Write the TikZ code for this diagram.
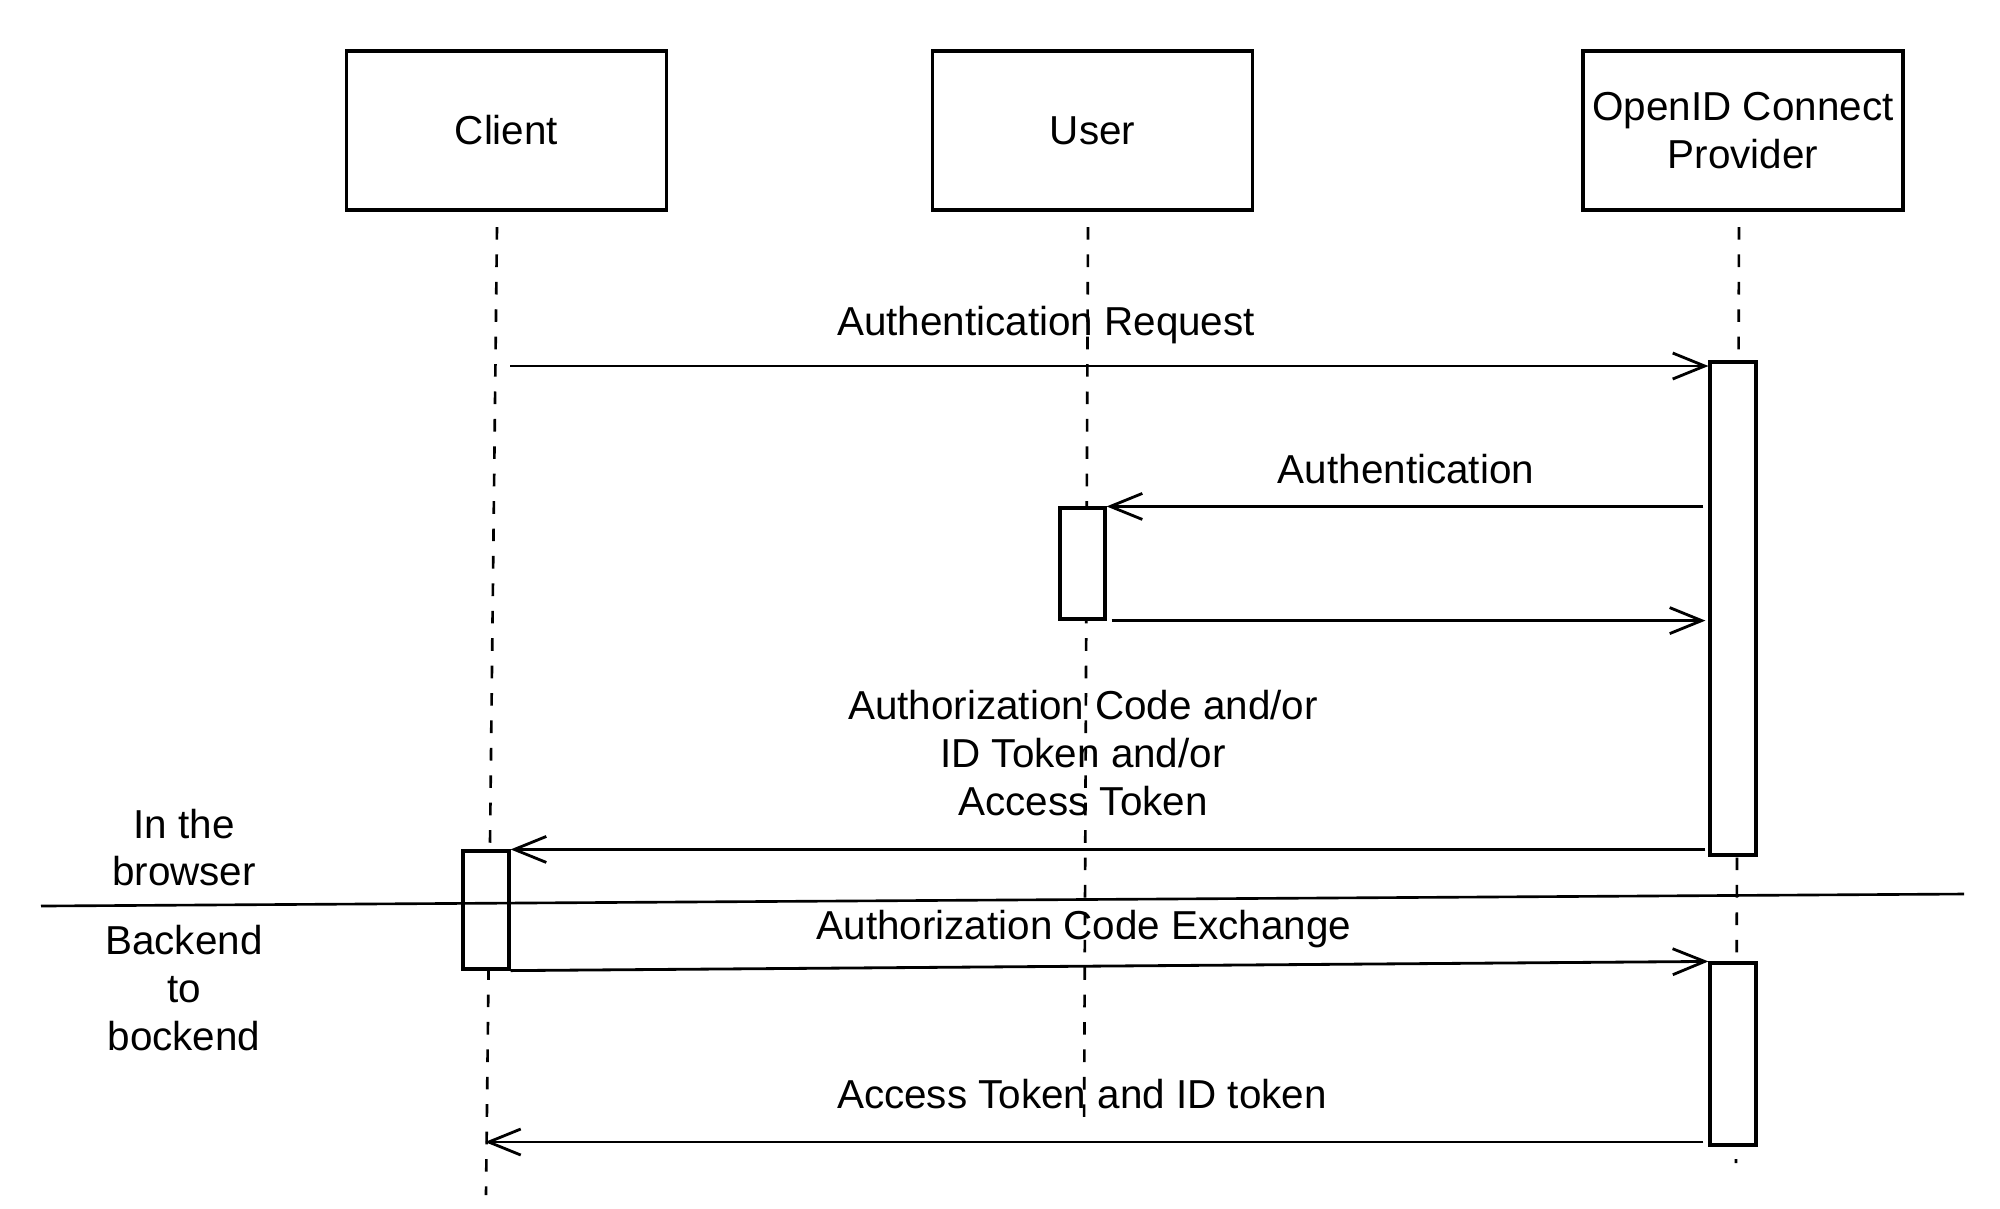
\documentclass[tikz,border=0pt]{standalone}
\usepackage{fontspec}
\setmainfont{Liberation Sans}
\usetikzlibrary{arrows.meta, positioning, calc}
\newcommand{\seqfont}{\fontsize{11.5}{13.6}\selectfont}

\begin{document}
\begin{tikzpicture}[
    >={Straight Barb[length=3.2mm, width=2.6mm]},
    actor/.style={draw, rectangle, line width=0.9pt, minimum width=3.2cm, minimum height=1.59cm, inner xsep=1pt, font=\seqfont, align=center},
    actbox/.style={draw, rectangle, fill=white, line width=0.9pt, minimum width=0.46cm, inner sep=0pt},
    lifeline/.style={line width=0.75pt, dash pattern=on 3.6pt off 4.2pt},
    msg/.style={->, line width=0.8pt},
    msglabel/.style={font=\seqfont, align=center, inner sep=1pt},
    sidelabel/.style={font=\seqfont, align=center, inner sep=1pt},
    divider/.style={line width=0.75pt}
]
    \useasboundingbox (0,0) rectangle (20,-12.08);

    \node[actor] (client) at (5.065,-1.305) {Client};
    \node[actor] (user) at (10.925,-1.305) {User};
    \node[actor] (oidc) at (17.43,-1.305) {OpenID Connect\\Provider};

    \coordinate (clientTop) at (4.97,-2.27);
    \coordinate (clientEnd) at (4.86,-11.95);
    \coordinate (userTop) at (10.88,-2.27);
    \coordinate (userEnd) at (10.84,-11.31);
    \coordinate (oidcTop) at (17.39,-2.27);
    \coordinate (oidcEnd) at (17.36,-11.63);
    \draw[lifeline] (clientTop) -- (clientEnd);
    \draw[lifeline] (userTop) -- (userEnd);
    \draw[lifeline] (oidcTop) -- (oidcEnd);

    \node[actbox, minimum height=4.93cm] (oidcAct1) at (17.33,-6.085) {};
    \node[actbox, minimum height=1.82cm] (oidcAct2) at (17.33,-10.54) {};
    \node[actbox, minimum width=0.45cm, minimum height=1.11cm] (userAct) at (10.825,-5.635) {};
    \node[actbox, minimum height=1.18cm] (clientAct) at (4.86,-9.10) {};

    \coordinate (reqStart) at (5.10,-3.66);
    \draw[msg] (reqStart) -- (reqStart -| oidcAct1.west);
    \node[msglabel] (reqLabel) at (10.46,-3.25) {Authentication Request};

    \draw[msg] ($(oidcAct1.west |- userAct.north)+(-0.05,0)$) -- (userAct.north east);
    \node[msglabel] (authLabel) at (14.06,-4.69) {Authentication};

    \draw[msg] ($(userAct.south east)+(0.05,0)$) -- ($(oidcAct1.west |- userAct.south)+(-0.03,0)$);

    \draw[msg] ($(oidcAct1.west |- clientAct.north)+(-0.03,0)$) -- (clientAct.north east);
    \node[msglabel] (codeLabel) at (10.83,-7.53) {Authorization Code and/or\\ID Token and/or\\Access Token};

    \draw[msg] (clientAct.south east) -- (oidcAct2.north west);
    \node[msglabel] (exchLabel) at (10.84,-9.29) {Authorization Code Exchange};

    \coordinate (tokEnd) at (4.85,-11.42);
    \draw[msg] ($(oidcAct2.west |- tokEnd)+(-0.05,0)$) -- (tokEnd);
    \node[msglabel] (tokLabel) at (10.82,-10.94) {Access Token and ID token};

    \coordinate (sepL) at (0.41,-9.06);
    \coordinate (sepR) at (19.64,-8.94);
    \draw[divider] (sepL) -- (sepR);

    \node[sidelabel] (browser) at (1.84,-8.475) {In the\\browser};
    \node[sidelabel] (backend) at (1.84,-9.88) {Backend\\to\\bockend};
\end{tikzpicture}
\end{document}
